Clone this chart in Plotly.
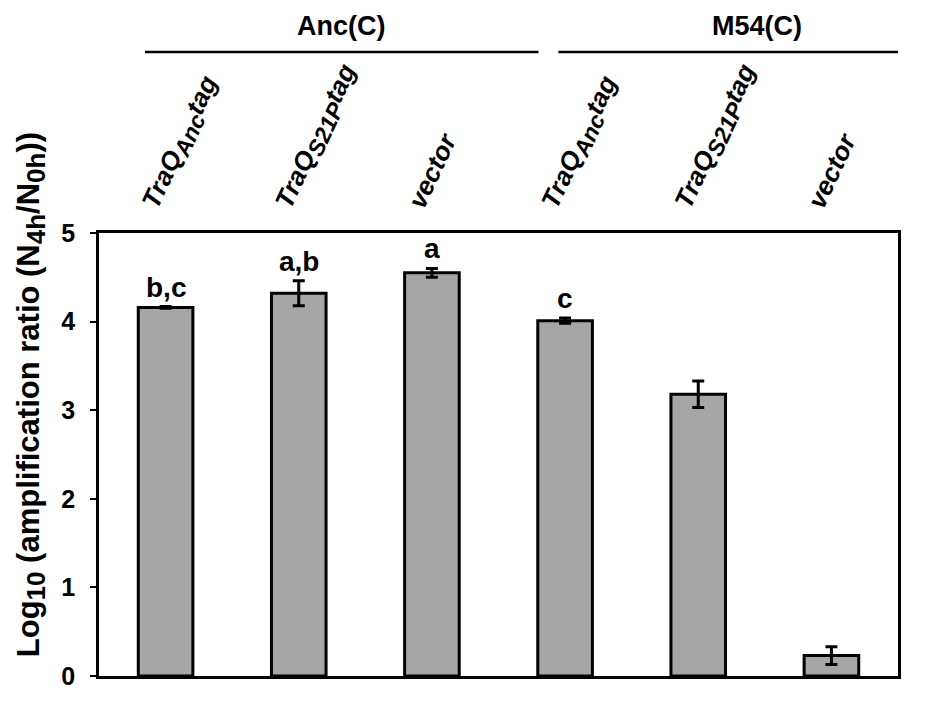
import plotly.graph_objects as go

# data
SUB = '<sub><span style="font-size:%dpx">%s</span></sub>'
categories = ["TraQ" + SUB % (23, "Anc") + "tag", "TraQ" + SUB % (23, "S21P") + "tag", "vector",
              "TraQ" + SUB % (23, "Anc") + "tag ", "TraQ" + SUB % (23, "S21P") + "tag ", "vector "]
values = [4.16, 4.32, 4.55, 4.01, 3.18, 0.23]
errors = [0.01, 0.14, 0.05, 0.03, 0.15, 0.10]
letters = ["b,c", "a,b", "a", "c", "", ""]
groups = ["Anc(C)", "M54(C)"]

font_main = "Liberation Sans, Arial, sans-serif"
font_narrow = "Liberation Sans Narrow, Arial Narrow, Liberation Sans, sans-serif"

fig = go.Figure()

fig.add_trace(go.Bar(
    x=categories,
    y=values,
    width=0.41,
    marker=dict(color="#A6A6A6", line=dict(color="black", width=3)),
    error_y=dict(type="data", array=errors, visible=True,
                 color="black", thickness=3, width=6),
))

# significance letters
for cat, v, e, t in zip(categories, values, errors, letters):
    if t:
        fig.add_annotation(x=cat, y=v + e, text="<b>%s</b>" % t,
                           showarrow=False, xanchor="center", yanchor="bottom", yshift=2,
                           font=dict(size=28, color="black", family=font_main))

# group headers with lines
spans = [(-0.155, 2.80), (2.95, 5.93)]
for g, (x0, x1) in zip(groups, spans):
    fig.add_shape(type="line", xref="x", yref="paper",
                  x0=x0, x1=x1, y0=1.4086, y1=1.4086,
                  line=dict(color="black", width=2.5))
    fig.add_annotation(x=(x0 + x1) / 2, xref="x", y=1.4086, yref="paper",
                       xanchor="center", yanchor="bottom", yshift=9,
                       text="<b>%s</b>" % g, showarrow=False,
                       font=dict(size=27, color="black", family=font_narrow))

# y axis title
fig.add_annotation(xref="paper", yref="paper", x=-0.085, y=0.634,
                   xanchor="center", yanchor="middle",
                   text="<b>Log" + SUB % (26, "10")
                        + " (amplification ratio (N" + SUB % (26, "4h")
                        + "/N" + SUB % (26, "0h") + "))</b>",
                   textangle=-90, showarrow=False,
                   font=dict(size=31, color="black", family=font_main))

fig.update_layout(
    width=950, height=704,
    margin=dict(l=91, r=60, t=225, b=36),
    paper_bgcolor="white", plot_bgcolor="white",
    showlegend=False,
    font=dict(family=font_main, color="black"),
    xaxis=dict(
        side="top",
        tickangle=-65,
        tickfont=dict(size=26, color="black", family=font_main, weight="bold", style="italic"),
        showline=True, linecolor="black", linewidth=2.5, mirror=True,
        ticks="", ticklabelstandoff=2, ticklabelshift=-20,
        range=[-0.5, 5.5],
        showgrid=False,
    ),
    yaxis=dict(
        range=[0, 5],
        tickvals=[0, 1, 2, 3, 4, 5],
        tickfont=dict(size=25, color="black", family=font_main, weight="bold"),
        showline=True, linecolor="black", linewidth=2.5, mirror=True,
        ticks="outside", ticklen=6, tickwidth=2, tickcolor="black",
        ticklabelstandoff=10,
        showgrid=False, zeroline=False,
    ),
)

fig.write_html("out.html")
